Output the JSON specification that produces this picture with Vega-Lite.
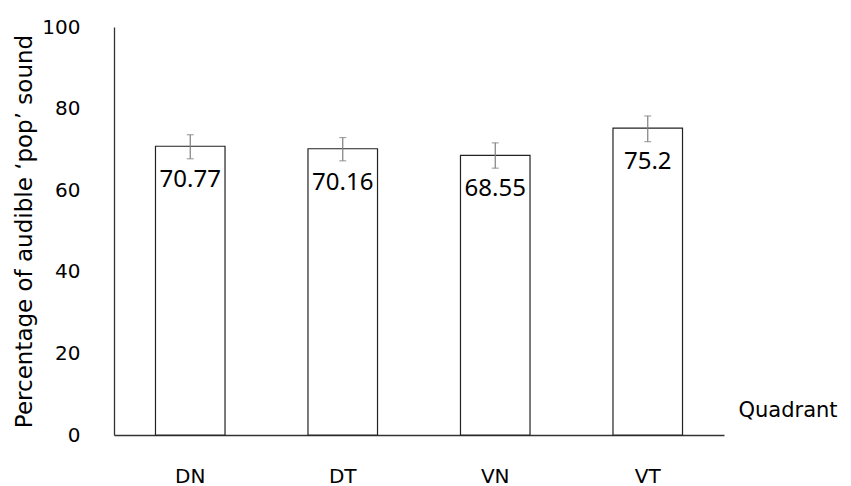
{
  "$schema": "https://vega.github.io/schema/vega-lite/v6.json",
  "width": 610,
  "height": 408,
  "autosize": "none",
  "padding": {"left": 114, "top": 27, "right": 127, "bottom": 51},
  "background": "white",
  "config": {
    "view": {"stroke": null},
    "font": "DejaVu Sans"
  },
  "data": {
    "values": [
      {"quadrant": "DN", "value": 70.77, "label": "70.77", "lower": 67.7, "upper": 73.6},
      {"quadrant": "DT", "value": 70.16, "label": "70.16", "lower": 67.2, "upper": 72.9},
      {"quadrant": "VN", "value": 68.55, "label": "68.55", "lower": 65.4, "upper": 71.6},
      {"quadrant": "VT", "value": 75.2, "label": "75.2", "lower": 71.9, "upper": 78.2}
    ]
  },
  "encoding": {
    "x": {
      "field": "quadrant",
      "type": "nominal",
      "sort": null,
      "scale": {"paddingInner": 0.544, "paddingOuter": 0.272},
      "axis": {
        "title": "Quadrant",
        "titleFont": "DejaVu Sans",
        "titleFontSize": 21,
        "titleFontWeight": "normal",
        "titleColor": "#000000",
        "titleAnchor": "start",
        "titleAlign": "left",
        "titleBaseline": "middle",
        "titleX": 624,
        "titleY": -25,
        "labelFont": "DejaVu Sans",
        "labelFontSize": 20,
        "labelColor": "#000000",
        "labelAngle": 0,
        "labelPadding": 31,
        "ticks": false,
        "domainColor": "#333333",
        "domainWidth": 1.3,
        "grid": false
      }
    }
  },
  "layer": [
    {
      "mark": {"type": "bar", "fill": "white", "stroke": "#222222", "strokeWidth": 1.2},
      "encoding": {
        "y": {
          "field": "value",
          "type": "quantitative",
          "scale": {"domain": [0, 100], "nice": false},
          "axis": {
            "title": "Percentage of audible ‘pop’ sound",
            "titleFont": "DejaVu Sans",
            "titleFontSize": 23,
            "titleFontWeight": "normal",
            "titleColor": "#000000",
            "titlePadding": 5,
            "values": [0, 20, 40, 60, 80, 100],
            "labelFont": "DejaVu Sans",
            "labelFontSize": 20,
            "labelColor": "#000000",
            "labelPadding": 34,
            "ticks": false,
            "grid": false,
            "domainColor": "#333333",
            "domainWidth": 1.3
          }
        }
      }
    },
    {
      "mark": {"type": "rule", "color": "#7f7f7f", "strokeWidth": 1.2},
      "encoding": {
        "y": {"field": "lower", "type": "quantitative"},
        "y2": {"field": "upper"}
      }
    },
    {
      "mark": {"type": "tick", "color": "#7f7f7f", "size": 7, "thickness": 1.2},
      "encoding": {"y": {"field": "lower", "type": "quantitative"}}
    },
    {
      "mark": {"type": "tick", "color": "#7f7f7f", "size": 7, "thickness": 1.2},
      "encoding": {"y": {"field": "upper", "type": "quantitative"}}
    },
    {
      "mark": {"type": "text", "font": "Noto Sans", "fontSize": 24, "color": "#000000", "baseline": "middle", "align": "center", "dy": 34},
      "encoding": {
        "y": {"field": "value", "type": "quantitative"},
        "text": {"field": "label", "type": "nominal"}
      }
    }
  ]
}
